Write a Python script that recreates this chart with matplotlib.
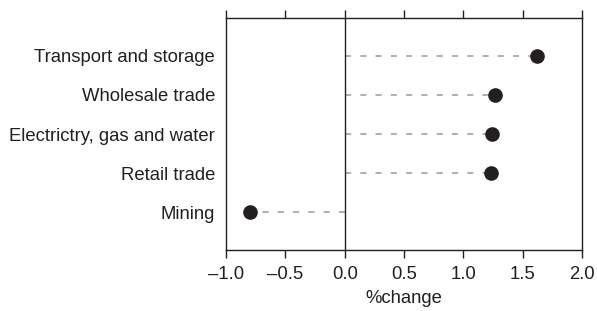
import numpy as np
import matplotlib.pyplot as plt

#%% data
industries = ['Mining', 'Retail trade', 'Electrictry, gas and water',
              'Wholesale trade', 'Transport and storage']
pct_change = [-0.80, 1.23, 1.245, 1.27, 1.62]
xtick_vals = [-1.0, -0.5, 0.0, 0.5, 1.0, 1.5, 2.0]
xtick_labels = ['\u20131.0', '\u20130.5', '0.0', '0.5', '1.0', '1.5', '2.0']

#%% plot
plt.rcParams['font.family'] = ['Liberation Sans', 'DejaVu Sans']
dark = '#231f20'
fs = 13.3

fig = plt.figure(figsize=(5.97, 3.11), dpi=100)
ax = fig.add_axes([0.3786, 0.196, 0.5964, 0.746])

ypos = np.arange(len(industries))
for y, v in zip(ypos, pct_change):
    ax.plot([0, v], [y, y], color='#9a9a9a', lw=1.1, dashes=(4.0, 6.0), zorder=1)
ax.plot(pct_change, ypos, 'o', color=dark, ms=9.5, zorder=3)
ax.axvline(0, color=dark, lw=1.0, zorder=2)

ax.set_xlim(-1, 2)
ax.set_ylim(-0.97, 4.97)
ax.set_yticks(ypos)
ax.set_yticklabels(industries, fontsize=fs, color=dark)
ax.tick_params(axis='y', length=0, pad=8)
ax.set_xticks(xtick_vals)
ax.set_xticklabels(xtick_labels, fontsize=fs, color=dark)
ax.tick_params(axis='x', which='both', top=True, direction='out', length=5.5,
               width=1.0, color=dark, pad=6)
ax.set_xlabel('%change', fontsize=fs, color=dark, labelpad=5)
for s in ax.spines.values():
    s.set_color(dark)
    s.set_linewidth(1.0)

plt.savefig('out.png', dpi=100)
